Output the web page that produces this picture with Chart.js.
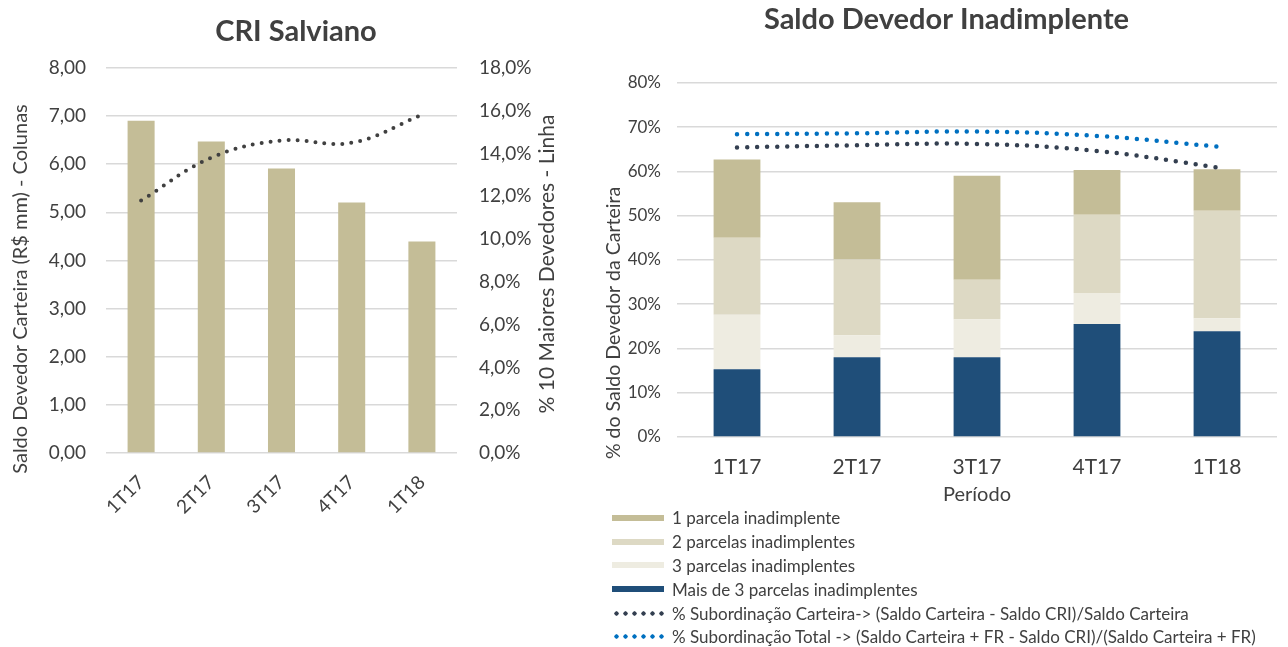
<!DOCTYPE html>
<html><head><meta charset="utf-8">
<script src="https://cdn.jsdelivr.net/npm/chart.js@4"></script>
<style>
html,body{margin:0;padding:0;background:#fff;}
body{width:1288px;height:647px;position:relative;overflow:hidden;font-family:Lato, "Noto Sans", sans-serif;}
#c1{position:absolute;left:0;top:0;}
#c2{position:absolute;left:592px;top:0;}
#legend{position:absolute;left:612px;top:506px;}
.item{height:23.8px;display:flex;align-items:center;font-size:17px;color:#404040;white-space:nowrap;}
.sw{width:52px;height:6px;margin-right:8px;flex:none;}
.dots{width:54px;height:5px;margin-right:6px;flex:none;background-size:9px 5px;background-repeat:repeat-x;}
</style>
</head><body>
<canvas id="c1" width="592" height="647"></canvas>
<canvas id="c2" width="696" height="515"></canvas>
<div id="legend"></div>
<script>
// ---- data ----
const periods = ['1T17', '2T17', '3T17', '4T17', '1T18'];
const saldoCarteira = [6.90, 6.47, 5.91, 5.20, 4.39];
const maioresDevedores = [11.8, 13.8, 14.6, 14.5, 15.8];

const parcela1 = [17.7, 12.9, 23.5, 10.1, 9.4];
const parcelas2 = [17.4, 17.1, 8.9, 17.7, 24.3];
const parcelas3 = [12.3, 5.0, 8.6, 7.0, 2.9];
const parcelasMais3 = [15.3, 18.0, 18.0, 25.5, 23.9];
const subordCarteira = [65.4, 65.9, 66.2, 64.6, 60.9];
const subordTotal = [68.4, 68.6, 69.0, 68.0, 65.6];

const seriesNames = ['1 parcela inadimplente', '2 parcelas inadimplentes', '3 parcelas inadimplentes', 'Mais de 3 parcelas inadimplentes',
  '% Subordinação Carteira-> (Saldo Carteira - Saldo CRI)/Saldo Carteira',
  '% Subordinação Total -> (Saldo Carteira + FR - Saldo CRI)/(Saldo Carteira + FR)'];

// ---- styles ----
const FONT = 'Lato, "Noto Sans", sans-serif';
const TXT = '#404040';
const GRID = '#d9d9d9';
const cTan1 = '#C4BD97', cTan2 = '#DDD9C4', cTan3 = '#EEECE1', cBlue = '#1F4E79';
const cDark = '#333F50', cLBlue = '#0070C0';

Chart.defaults.font.family = FONT;
Chart.defaults.color = TXT;
Chart.defaults.animation = false;

const axisTitles = {
  id: 'axisTitles',
  afterDraw(chart, args, opts) {
    const ctx = chart.ctx;
    (opts.items || []).forEach(it => {
      ctx.save();
      ctx.translate(it.x, it.y);
      ctx.rotate(it.rotation || 0);
      ctx.font = it.font;
      ctx.fillStyle = TXT;
      ctx.textAlign = 'center';
      ctx.textBaseline = 'middle';
      ctx.fillText(it.text, 0, 0);
      ctx.restore();
    });
  }
};

const comma = (v, d) => v.toFixed(d).replace('.', ',');

new Chart(document.getElementById('c1'), {
  data: {
    labels: periods,
    datasets: [
      { type: 'line', label: '% 10 Maiores Devedores', data: maioresDevedores, yAxisID: 'y1', order: 1,
        borderColor: '#404040', borderWidth: 4, borderDash: [0, 9], borderCapStyle: 'round',
        pointRadius: 0, tension: 0.4, fill: false },
      { type: 'bar', label: 'Saldo Devedor Carteira', data: saldoCarteira, yAxisID: 'y', order: 2,
        backgroundColor: cTan1, categoryPercentage: 1, barPercentage: 0.385 }
    ]
  },
  options: {
    responsive: false, devicePixelRatio: 1,
    layout: { padding: 0 },
    plugins: {
      legend: { display: false }, tooltip: { enabled: false },
      title: { display: true, text: 'CRI Salviano', color: TXT, font: { size: 29, weight: 'bold' }, padding: { top: 14, bottom: 19 } },
      axisTitles: { items: [
        { text: 'Saldo Devedor Carteira (R$ mm) - Colunas', x: 21, y: 289, rotation: -Math.PI / 2, font: '20px ' + FONT },
        { text: '% 10 Maiores Devedores - Linha', x: 547, y: 264, rotation: -Math.PI / 2, font: '21px ' + FONT }
      ] }
    },
    scales: {
      x: { grid: { display: false }, border: { display: false },
        ticks: { minRotation: 45, maxRotation: 45, padding: 10, font: { size: 19 }, autoSkip: false },
        afterFit: s => { s.height = 194; } },
      y: { position: 'left', min: 0, max: 8, border: { display: false },
        grid: { color: GRID, lineWidth: 1.5, drawTicks: false },
        ticks: { stepSize: 1, padding: 20, font: { size: 19 }, callback: v => comma(v, 2) },
        afterFit: s => { s.width = 106; } },
      y1: { position: 'right', min: 0, max: 18, border: { display: false },
        grid: { drawOnChartArea: false, drawTicks: false },
        ticks: { stepSize: 2, padding: 22, font: { size: 19 }, callback: v => comma(v, 1) + '%' },
        afterFit: s => { s.width = 135; } }
    }
  },
  plugins: [axisTitles]
});

const dotted = (label, data, color) => ({ type: 'line', label, data, stack: label, order: 1,
  borderColor: color, borderWidth: 4.5, borderDash: [0, 10], borderCapStyle: 'round',
  pointRadius: 0, tension: 0.4, fill: false });
const bar = (label, data, color) => ({ type: 'bar', label, data, stack: 'bars', order: 2,
  backgroundColor: color, categoryPercentage: 1, barPercentage: 0.39 });

new Chart(document.getElementById('c2'), {
  data: {
    labels: periods,
    datasets: [
      bar(seriesNames[3], parcelasMais3, cBlue),
      bar(seriesNames[2], parcelas3, cTan3),
      bar(seriesNames[1], parcelas2, cTan2),
      bar(seriesNames[0], parcela1, cTan1),
      dotted(seriesNames[4], subordCarteira, cDark),
      dotted(seriesNames[5], subordTotal, cLBlue)
    ]
  },
  options: {
    responsive: false, devicePixelRatio: 1,
    layout: { padding: { left: 24, right: 11, top: 0, bottom: 0 } },
    plugins: {
      legend: { display: false }, tooltip: { enabled: false },
      title: { display: true, text: 'Saldo Devedor Inadimplente', color: TXT, font: { size: 29, weight: 'bold' }, padding: { top: 2, bottom: 46 } },
      axisTitles: { items: [
        { text: '% do Saldo Devedor da Carteira', x: 22, y: 323, rotation: -Math.PI / 2, font: '19.5px ' + FONT }
      ] }
    },
    scales: {
      x: { stacked: true, grid: { display: false }, border: { display: false },
        ticks: { padding: 10, font: { size: 21 } },
        title: { display: true, text: 'Período', font: { size: 20 }, padding: { top: 0, bottom: 8 } },
        afterFit: s => { s.height = 78; } },
      y: { stacked: true, min: 0, max: 80, border: { display: false },
        grid: { color: GRID, lineWidth: 1.5, drawTicks: false },
        ticks: { stepSize: 10, padding: 16, font: { size: 17 }, callback: v => v + '%' },
        afterFit: s => { s.width = 61; } }
    }
  },
  plugins: [axisTitles]
});

// ---- HTML legend ----
const legendItems = [
  { name: seriesNames[0], color: cTan1, kind: 'box' },
  { name: seriesNames[1], color: cTan2, kind: 'box' },
  { name: seriesNames[2], color: cTan3, kind: 'box' },
  { name: seriesNames[3], color: cBlue, kind: 'box' },
  { name: seriesNames[4], color: cDark, kind: 'dots' },
  { name: seriesNames[5], color: cLBlue, kind: 'dots' }
];
const lg = document.getElementById('legend');
legendItems.forEach(it => {
  const row = document.createElement('div');
  row.className = 'item';
  const sw = document.createElement('span');
  if (it.kind === 'box') { sw.className = 'sw'; sw.style.background = it.color; }
  else { sw.className = 'dots'; sw.style.backgroundImage = `radial-gradient(circle at 4.5px 2.5px, ${it.color} 1.9px, transparent 2.4px)`; }
  const t = document.createElement('span');
  t.textContent = it.name;
  row.appendChild(sw); row.appendChild(t);
  lg.appendChild(row);
});
</script>
</body></html>
